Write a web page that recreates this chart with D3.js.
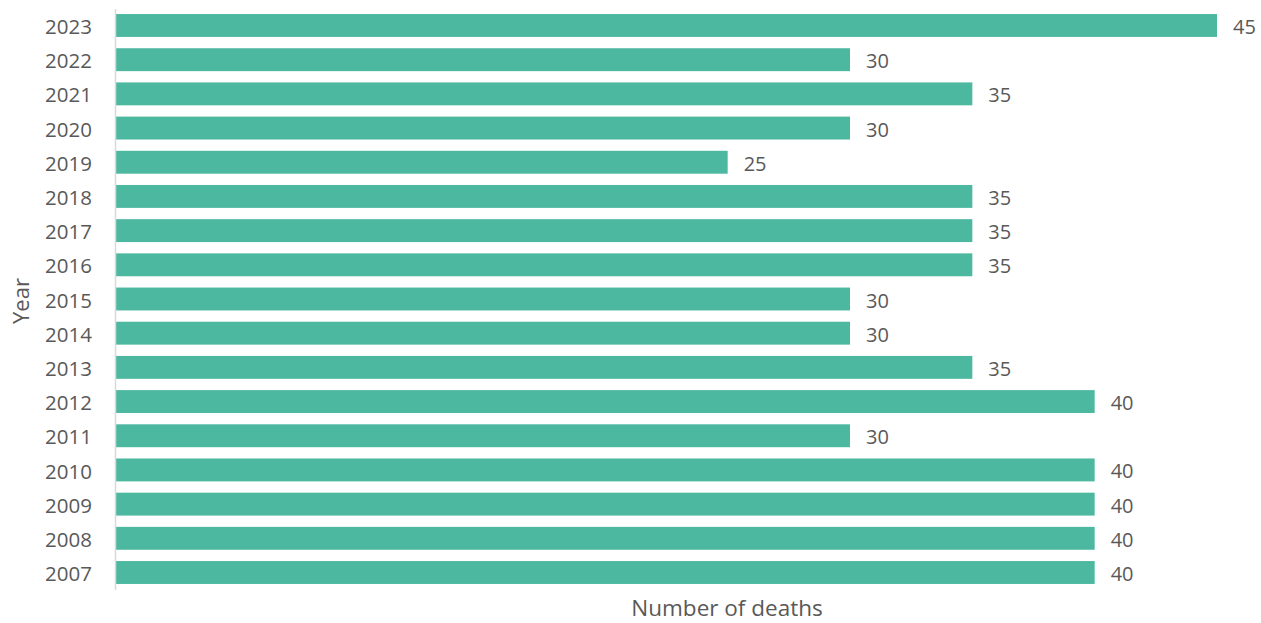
<!DOCTYPE html>
<html><head><meta charset="utf-8">
<script src="https://cdn.jsdelivr.net/npm/d3@7"></script>
<style>body{margin:0;background:#fff}svg{display:block}text{font-family:"Open Sans",sans-serif;fill:#595959}</style>
</head><body>
<svg id="c" width="1261" height="623"></svg>
<script>
const years = ["2023","2022","2021","2020","2019","2018","2017","2016","2015","2014","2013","2012","2011","2010","2009","2008","2007"];
const deaths = [45,30,35,30,25,35,35,35,30,30,35,40,30,40,40,40,40];
const xTitle = "Number of deaths";
const yTitle = "Year";

(function(){
const svg = d3.select("#c");
const mLeft = 116, mRight = 1217, mTop = 8.4, mBottom = 589.6;
const x = d3.scaleLinear().domain([0,45]).range([mLeft,mRight]);
const y = d3.scaleBand().domain(years).range([mTop,mBottom]).paddingInner(0.33).paddingOuter(0.165);

svg.append("g").selectAll("rect").data(years).join("rect")
  .attr("x", x(0)).attr("y", d=>y(d))
  .attr("width", (d,i)=>x(deaths[i])-x(0)).attr("height", y.bandwidth())
  .attr("fill", "#4db8a0");

svg.append("g").selectAll("text").data(years).join("text")
  .attr("x", (d,i)=>x(deaths[i])+16).attr("y", d=>y(d)+y.bandwidth()/2+1.5)
  .attr("dy","0.35em").attr("font-size",20).text((d,i)=>deaths[i]);

const ax = svg.append("g").attr("transform",`translate(${mLeft-1},0)`)
  .call(d3.axisLeft(y).tickSize(0).tickPadding(23));
ax.select(".domain").attr("stroke","#d9d9d9").attr("stroke-width",1.5);
ax.selectAll("text").attr("font-size",20.5).attr("fill","#595959").attr("dy","0.42em")
  .style("font-family","'Open Sans',sans-serif");

svg.append("text").attr("x",727).attr("y",616).attr("text-anchor","middle")
  .attr("font-size",22.5).text(xTitle);
svg.append("text").attr("transform","translate(29,301) rotate(-90)").attr("text-anchor","middle")
  .attr("font-size",22).text(yTitle);
})();
</script>
</body></html>
